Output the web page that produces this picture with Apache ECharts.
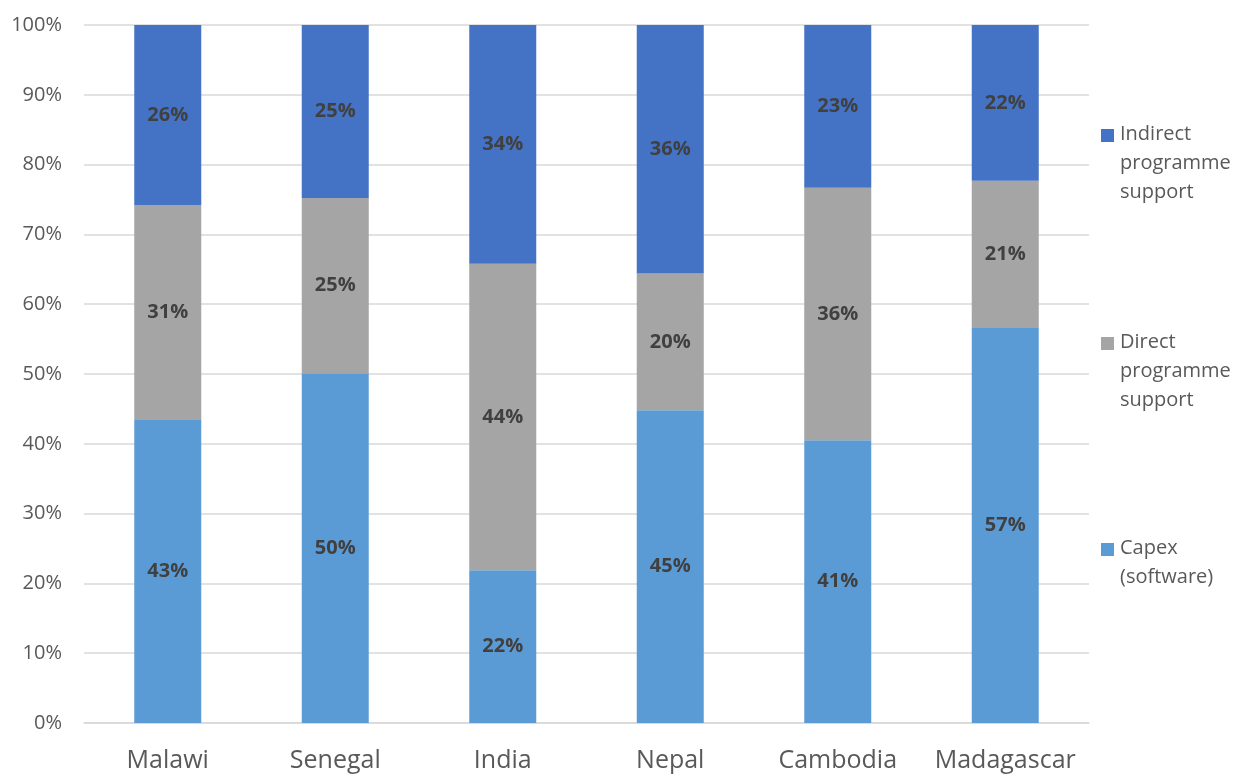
<!DOCTYPE html>
<html>
<head>
<meta charset="utf-8">
<script src="https://cdn.jsdelivr.net/npm/echarts@6/dist/echarts.min.js"></script>
<style>
  html, body { margin: 0; padding: 0; background: #fff; }
  #chart { width: 1238px; height: 774px; }
</style>
</head>
<body>
<div id="chart"></div>
<script>
const countries = ['Malawi', 'Senegal', 'India', 'Nepal', 'Cambodia', 'Madagascar']
const seriesNames = ['Capex\n(software)', 'Direct\nprogramme\nsupport', 'Indirect\nprogramme\nsupport']
const capex = [43.4, 50.1, 21.9, 44.8, 40.5, 56.6]
const direct = [30.8, 25.1, 43.9, 19.6, 36.2, 21.1]
const indirect = [25.8, 24.8, 34.2, 35.6, 23.3, 22.3]
const colors = ['#5b9bd5', '#a5a5a5', '#4472c4']

const font = '"Open Sans", "Liberation Sans", sans-serif'
const chart = echarts.init(document.getElementById('chart'))

const values = [capex, direct, indirect]
const series = values.map((data, i) => ({
  name: seriesNames[i],
  type: 'bar',
  stack: 'total',
  data,
  barWidth: '40%',
  itemStyle: { color: colors[i] },
  label: {
    show: true,
    position: 'inside',
    formatter: (p) => Math.round(p.value) + '%',
    color: '#404040',
    fontWeight: 'bold',
    fontSize: 20,
    fontFamily: font
  }
}))

// legend drawn at the right, icon aligned to the first text line
const legendTops = [538, 332, 124]
const legendGraphics = []
seriesNames.forEach((name, i) => {
  legendGraphics.push({
    type: 'rect',
    left: 1101,
    top: legendTops[i] + 5,
    shape: { width: 13, height: 13 },
    style: { fill: colors[i] }
  })
  legendGraphics.push({
    type: 'text',
    left: 1120,
    top: legendTops[i] - 4,
    style: {
      text: name,
      fill: '#595959',
      font: '20px ' + font,
      lineHeight: 29
    }
  })
})

chart.setOption({
  animation: false,
  textStyle: { fontFamily: font },
  grid: { left: 84, right: 149, top: 25, bottom: 51, containLabel: false },
  xAxis: {
    type: 'category',
    data: countries,
    axisLine: { lineStyle: { color: '#d9d9d9', width: 1.5 } },
    axisTick: { show: false },
    axisLabel: { interval: 0, color: '#595959', fontSize: 25, margin: 25, fontFamily: font }
  },
  yAxis: {
    type: 'value',
    min: 0,
    max: 100,
    interval: 10,
    axisLine: { show: false },
    axisTick: { show: false },
    axisLabel: { formatter: '{value}%', color: '#595959', fontSize: 20, margin: 22, fontFamily: font },
    splitLine: { lineStyle: { color: '#d9d9d9', width: 1.5 } }
  },
  graphic: legendGraphics,
  series
})
</script>
</body>
</html>
